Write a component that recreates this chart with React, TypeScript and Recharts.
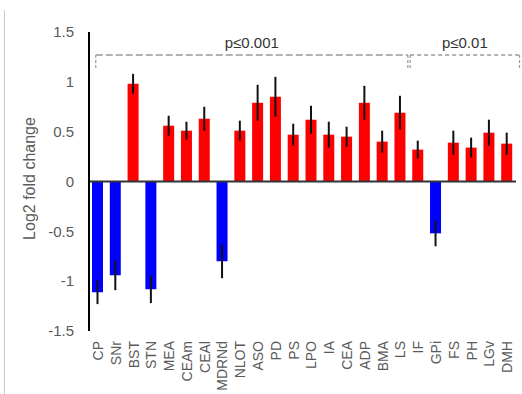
import React from 'react';
import { ComposedChart, Bar, XAxis, YAxis, ErrorBar, Cell, ReferenceLine, ReferenceDot } from 'recharts';

const categories = ['CP','SNr','BST','STN','MEA','CEAm','CEAl','MDRNd','NLOT','ASO','PD','PS','LPO','IA','CEA','ADP','BMA','LS','IF','GPi','FS','PH','LGv','DMH'];
const values = [-1.11,-0.94,0.98,-1.08,0.56,0.51,0.63,-0.80,0.51,0.79,0.85,0.47,0.62,0.47,0.45,0.79,0.40,0.69,0.32,-0.52,0.39,0.34,0.49,0.38];
const errors = [0.12,0.15,0.10,0.14,0.10,0.09,0.12,0.17,0.10,0.18,0.20,0.11,0.14,0.13,0.10,0.17,0.11,0.17,0.09,0.13,0.12,0.10,0.13,0.11];
const yTicks = [-1.5,-1,-0.5,0,0.5,1,1.5];
const bracketLabels = ['p≤0.001','p≤0.01'];
const bracketStarts = [0.38, 18.05];
const bracketEnds = [17.92, 24.2];
const bracketLevel = 1.27;
const bracketTickEnd = 1.12;

const data = categories.map((c, i) => ({ name: c, pos: i + 0.5, value: values[i], err: errors[i] }));

const FONT = '"Liberation Sans", Arial, sans-serif';
const GREY = '#5a5a5a';

const XTick = (props: any) => {
  const { x, y, payload } = props;
  return (
    <text x={x} y={y} transform={`rotate(-90, ${x}, ${y})`} textAnchor="end" dy="0.36em"
      fill={GREY} fontSize={14} fontFamily={FONT}>{payload.value}</text>
  );
};

const YLabel = (props: any) => {
  const vb = props.viewBox || { x: 0, y: 32, width: 89, height: 299 };
  const cx = vb.x + 29;
  const cy = vb.y + vb.height / 2 - 3;
  return (
    <text x={cx} y={cy} transform={`rotate(-90, ${cx}, ${cy})`} textAnchor="middle" dominantBaseline="central"
      fill={GREY} fontSize={16} fontFamily={FONT}>Log2 fold change</text>
  );
};

export default function App() {
  return (
    <div style={{ position: 'absolute', left: 0, top: 0, width: 522, height: 394, background: '#fff' }}>
      <div style={{ position: 'absolute', left: 4, top: 10, width: 1, height: 384, background: '#c8c8c8' }} />
      <ComposedChart width={522} height={394} data={data} margin={{ top: 32, right: 6, left: 0, bottom: 0 }}>
        <XAxis dataKey="name" xAxisId={0} interval={0} axisLine={false} tickLine={false} height={63}
          tickMargin={4} tick={<XTick />} />
        <XAxis xAxisId="num" dataKey="pos" type="number" domain={[0, categories.length]} allowDataOverflow hide />
        <YAxis domain={[-1.5, 1.5]} ticks={yTicks} width={89} tickLine={false} tickSize={6} tickMargin={9}
          axisLine={{ stroke: '#000', strokeWidth: 2 }} interval={0}
          tick={{ fill: GREY, fontSize: 15, fontFamily: FONT }} label={<YLabel />} />
        <Bar dataKey="value" barSize={11} isAnimationActive={false}>
          {data.map((d, i) => (
            <Cell key={i} fill={d.value >= 0 ? '#ff0000' : '#0000ff'} />
          ))}
          <ErrorBar dataKey="err" width={0} stroke="#111" strokeWidth={2} direction="y" isAnimationActive={false} />
        </Bar>
        <ReferenceLine y={0} stroke="#333" strokeWidth={2} />
        {bracketLabels.map((lab, i) => (
          <ReferenceLine key={'h' + i} xAxisId="num" ifOverflow="visible"
            segment={[{ x: bracketStarts[i], y: bracketLevel }, { x: bracketEnds[i], y: bracketLevel }]}
            stroke="#999" strokeWidth={1.5} strokeDasharray={i === 0 ? '7 3' : '4 3'} />
        ))}
        {bracketLabels.map((lab, i) => (
          <ReferenceLine key={'l' + i} xAxisId="num" ifOverflow="visible"
            segment={[{ x: bracketStarts[i], y: bracketLevel }, { x: bracketStarts[i], y: bracketTickEnd }]}
            stroke="#999" strokeWidth={1.2} strokeDasharray="3 2" />
        ))}
        {bracketLabels.map((lab, i) => (
          <ReferenceLine key={'r' + i} xAxisId="num" ifOverflow="visible"
            segment={[{ x: bracketEnds[i], y: bracketLevel }, { x: bracketEnds[i], y: bracketTickEnd }]}
            stroke="#999" strokeWidth={1.2} strokeDasharray="3 2" />
        ))}
        {bracketLabels.map((lab, i) => (
          <ReferenceDot key={'t' + i} xAxisId="num" ifOverflow="visible"
            x={(bracketStarts[i] + bracketEnds[i]) / 2} y={bracketLevel} r={0} fill="none" stroke="none"
            label={{ value: lab, position: 'top', offset: 7, fill: '#333', fontSize: 15, fontFamily: FONT }} />
        ))}
      </ComposedChart>
    </div>
  );
}
